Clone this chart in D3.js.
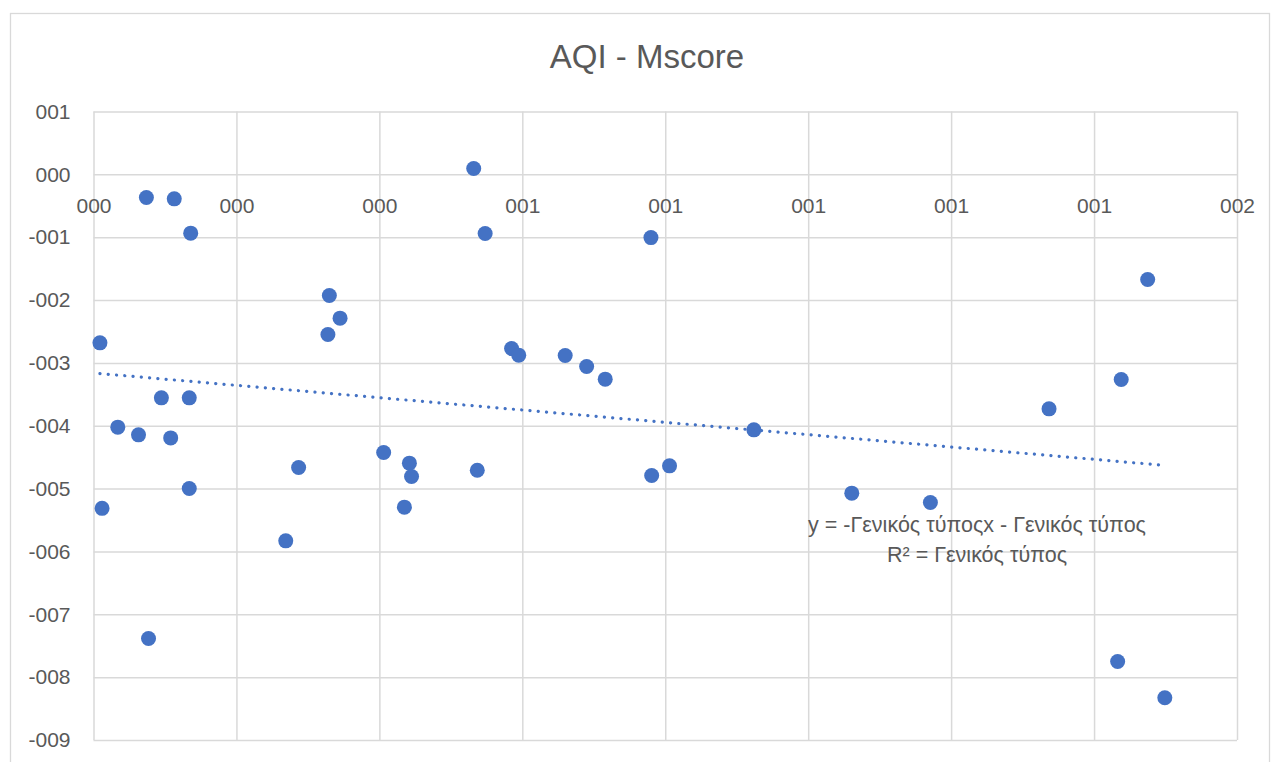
<!DOCTYPE html>
<html>
<head>
<meta charset="utf-8">
<script src="https://cdn.jsdelivr.net/npm/d3@7"></script>
<style>
  html, body { margin: 0; padding: 0; background: #ffffff; }
  svg { display: block; }
  text { font-family: "Liberation Sans", Arial, sans-serif; fill: #595959; }
</style>
</head>
<body>
<svg id="chart" width="1271" height="762"></svg>
<script>
// AQI (x) against Mscore (y), one entry per observation
const aqi = [
  0.009, 0.012, 0.034, 0.063, 0.074, 0.077, 0.095, 0.108, 0.113, 0.134,
  0.134, 0.136, 0.269, 0.287, 0.328, 0.330, 0.345, 0.406, 0.435, 0.442,
  0.445, 0.532, 0.537, 0.548, 0.585, 0.595, 0.660, 0.690, 0.716, 0.780,
  0.781, 0.806, 0.924, 1.061, 1.171, 1.337, 1.433, 1.438, 1.475, 1.499
];
const mscore = [
  -2.681, -5.314, -4.022, -4.145, -0.369, -7.386, -3.556, -4.193, -0.390, -4.999,
  -3.556, -0.936, -5.831, -4.665, -2.549, -1.928, -2.288, -4.426, -5.295, -4.595,
  -4.808, 0.092, -4.707, -0.942, -2.772, -2.877, -2.883, -3.058, -3.259, -1.006,
  -4.792, -4.638, -4.065, -5.072, -5.222, -3.731, -7.750, -3.265, -1.672, -8.328
];

// Axis ticks
const xTicks = [0, 0.2, 0.4, 0.6, 0.8, 1.0, 1.2, 1.4, 1.6];
const yTicks = [1, 0, -1, -2, -3, -4, -5, -6, -7, -8, -9];

const title = "AQI - Mscore";
const eqLine1 = "y = -Γενικός τύποςx - Γενικός τύπος";
const eqLine2 = "R² = Γενικός τύπος";

// Number format "000": rounded to an integer, padded to three digits
const fmt = v => {
  const r = Math.round(Math.abs(v));
  const s = String(r).padStart(3, "0");
  return (v < 0 && r !== 0 ? "-" : "") + s;
};

const svg = d3.select("#chart");
const plot = { left: 93.5, right: 1237, top: 111.5, bottom: 740 };

const x = d3.scaleLinear().domain([0, 1.6]).range([plot.left, plot.right]);
const y = d3.scaleLinear().domain([-9, 1]).range([plot.bottom, plot.top]);

// Chart frame
svg.append("rect")
  .attr("x", 10.5).attr("y", 13.5)
  .attr("width", 1259).attr("height", 760)
  .attr("fill", "#ffffff")
  .attr("stroke", "#d9d9d9").attr("stroke-width", 1.3);

// Title
svg.append("text")
  .attr("x", 647).attr("y", 68)
  .attr("text-anchor", "middle")
  .style("font-size", "33px")
  .text(title);

// Gridlines
const grid = svg.append("g");
grid.append("g")
  .attr("transform", `translate(0,${plot.bottom})`)
  .call(d3.axisBottom(x).tickValues(xTicks).tickSize(-(plot.bottom - plot.top)).tickFormat(""))
  .call(g => g.select(".domain").remove());
grid.append("g")
  .attr("transform", `translate(${plot.left},0)`)
  .call(d3.axisLeft(y).tickValues(yTicks).tickSize(-(plot.right - plot.left)).tickFormat(""))
  .call(g => g.select(".domain").remove());
grid.selectAll("line")
  .attr("stroke", "#d9d9d9")
  .attr("stroke-width", 1.5);

// Y axis labels
svg.append("g")
  .attr("transform", `translate(${plot.left},0)`)
  .call(d3.axisLeft(y).tickValues(yTicks).tickSize(0).tickPadding(23).tickFormat(fmt))
  .call(g => g.select(".domain").remove())
  .selectAll("text")
  .attr("fill", "#595959")
  .style("font-family", '"Liberation Sans", Arial, sans-serif')
  .style("font-size", "21px");

// X axis labels, hung from the zero line
svg.append("g")
  .attr("transform", `translate(0,${y(0)})`)
  .call(d3.axisBottom(x).tickValues(xTicks).tickSize(0).tickPadding(24).tickFormat(fmt))
  .call(g => g.select(".domain").remove())
  .selectAll("text")
  .attr("fill", "#595959")
  .style("font-family", '"Liberation Sans", Arial, sans-serif')
  .style("font-size", "21px");

// Points
const pts = aqi.map((v, i) => ({ x: v, y: mscore[i] }));
svg.append("g")
  .selectAll("circle")
  .data(pts)
  .join("circle")
  .attr("cx", d => x(d.x))
  .attr("cy", d => y(d.y))
  .attr("r", 7.5)
  .attr("fill", "#4472c4");

// Least-squares trendline across the data range
const mx = d3.mean(aqi), my = d3.mean(mscore);
let sxy = 0, sxx = 0;
pts.forEach(p => { sxy += (p.x - mx) * (p.y - my); sxx += (p.x - mx) ** 2; });
const slope = sxy / sxx, intercept = my - slope * mx;
const [x0, x1] = d3.extent(aqi);
svg.append("path")
  .datum([x0, x1])
  .attr("d", d3.line().x(d => x(d)).y(d => y(intercept + slope * d)))
  .attr("fill", "none")
  .attr("stroke", "#4472c4")
  .attr("stroke-width", 3.2)
  .attr("stroke-linecap", "round")
  .attr("stroke-dasharray", "0.1 8.2");

// Trendline label
const eq = svg.append("text")
  .attr("text-anchor", "middle")
  .style("font-size", "21.5px");
eq.append("tspan").attr("x", 977).attr("y", 532).text(eqLine1);
eq.append("tspan").attr("x", 977).attr("y", 562).text(eqLine2);
</script>
</body>
</html>
